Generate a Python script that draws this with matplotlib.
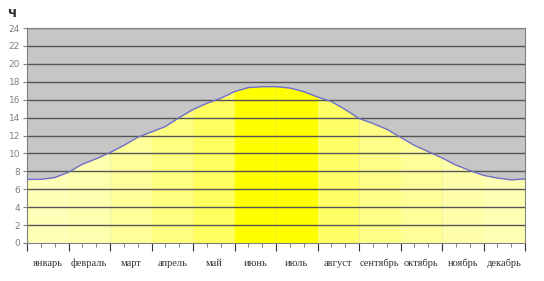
import matplotlib
matplotlib.use('Agg')
import matplotlib.pyplot as plt
import numpy as np

months = ['январь', 'февраль', 'март', 'апрель', 'май', 'июнь',
          'июль', 'август', 'сентябрь', 'октябрь', 'ноябрь', 'декабрь']
# day length (hours) at dekad boundaries, 37 points Jan 1 .. Dec 31
hours = [7.1, 7.1, 7.3, 7.9, 8.8, 9.4, 10.1, 10.9, 11.8, 12.4, 13.0, 14.0,
         14.9, 15.6, 16.15, 16.9, 17.35, 17.45, 17.45, 17.3, 16.9, 16.3,
         15.8, 14.9, 13.9, 13.35, 12.7, 11.8, 10.9, 10.2, 9.5, 8.7, 8.1,
         7.55, 7.25, 7.05, 7.15]
month_colors = ['#FFFFB8', '#FFFFB0', '#FFFF99', '#FFFF80', '#FFFF60', '#FFFF00',
                '#FFFF00', '#FFFF66', '#FFFF88', '#FFFF99', '#FFFFAA', '#FFFFB4']

x = np.arange(len(hours)) / 3.0
y = np.array(hours)

fig = plt.figure(figsize=(5.44, 2.81), dpi=100)
ax = fig.add_axes([27/544, 1-243/281, 498/544, 215/281])
ax.set_facecolor('#C6C6C6')

for m in range(12):
    sl = slice(3*m, 3*m+4)
    ax.fill_between(x[sl], 0, y[sl], color=month_colors[m], lw=0, zorder=1)

for g in range(2, 25, 2):
    ax.axhline(g, color='#555555', lw=1, zorder=2)

ax.plot(x, y, color='#7070C8', lw=1, zorder=3)

ax.set_xlim(0, 12)
ax.set_ylim(0, 24)
ax.set_yticks(range(0, 25, 2))
ax.tick_params(axis='y', labelsize=6.5, labelcolor='#808080', color='#808080',
               length=3, pad=2)
ax.set_xticks(range(13))
ax.set_xticks(np.arange(37) / 3.0, minor=True)
ax.set_xticklabels([])
ax.tick_params(axis='x', which='major', length=6, color='#333333')
ax.tick_params(axis='x', which='minor', length=3, color='#666666')
for s in ax.spines.values():
    s.set_color('#808080')
    s.set_linewidth(0.8)

for m, name in enumerate(months):
    ax.text(m + 0.5, -2.3, name, ha='center', va='center', fontsize=7.5,
            family='Liberation Serif', color='#333333')

fig.text(12/544, 1-13/281, 'ч', fontsize=10, fontweight='bold', color='#333333',
         ha='center', va='center')

fig.savefig('out.png', dpi=100)
